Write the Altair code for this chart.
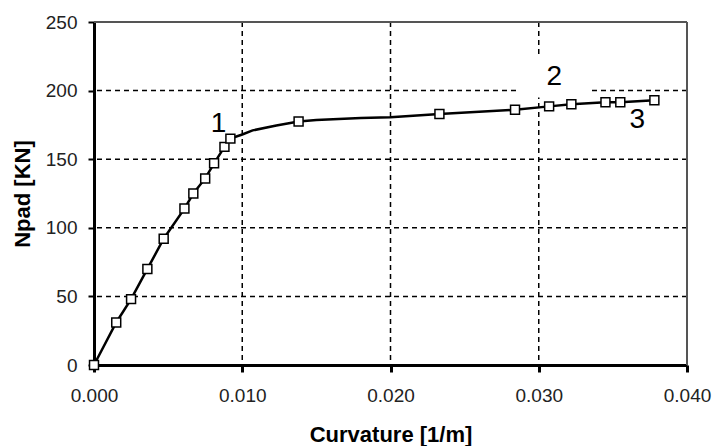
import altair as alt
import pandas as pd

# Moment-curvature curve of the pad: curvature [1/m] vs. axial load [kN]
curv = [0.0, 0.0015, 0.0025, 0.0036, 0.0047, 0.0061, 0.0067, 0.0075, 0.0081,
        0.0088, 0.0092, 0.0100, 0.0107, 0.0123, 0.0138, 0.0150, 0.0180, 0.0200,
        0.0233, 0.0284, 0.0307, 0.0322, 0.0345, 0.0355, 0.0378]
load = [0, 31, 48, 70, 92, 114, 125, 136, 147,
        159, 165, 168, 171, 174.5, 177.5, 178.5, 180, 180.5,
        183, 186, 188.5, 190, 191.5, 191.5, 193]

# Measured points shown with square markers
mark_curv = [0.0, 0.0015, 0.0025, 0.0036, 0.0047, 0.0061, 0.0067, 0.0075, 0.0081,
             0.0088, 0.0092, 0.0138, 0.0233, 0.0284, 0.0307, 0.0322, 0.0345,
             0.0355, 0.0378]
mark_load = [0, 31, 48, 70, 92, 114, 125, 136, 147,
             159, 165, 177.5, 183, 186, 188.5, 190, 191.5, 191.5, 193]

x_ticks = [0.0, 0.01, 0.02, 0.03, 0.04]
y_ticks = [0, 50, 100, 150, 200, 250]
grid_x = [0.01, 0.02, 0.03]
grid_y = [50, 100, 150, 200]

# Stage labels
label_text = ["1", "2", "3"]
label_x = [0.0084, 0.03105, 0.03665]
label_y = [169.6, 203.9, 172.5]

# White backing box behind label "2"
box_x = [0.0287]
box_x2 = [0.0335]
box_y = [195]
box_y2 = [224]

FONT = "Liberation Sans"

line_df = pd.DataFrame({"x": curv, "y": load})
mark_df = pd.DataFrame({"x": mark_curv, "y": mark_load})
gx_df = pd.DataFrame({"x": grid_x})
gy_df = pd.DataFrame({"y": grid_y})
lab_df = pd.DataFrame({"x": label_x, "y": label_y, "t": label_text})
box_df = pd.DataFrame({"x": box_x, "x2": box_x2, "y": box_y, "y2": box_y2})
# top and right frame lines sit on the upper ends of the axes
top_df = pd.DataFrame({"y": [y_ticks[-1]]})
right_df = pd.DataFrame({"x": [x_ticks[-1]]})

xscale = alt.Scale(domain=[0, 0.04], nice=False, zero=True)
yscale = alt.Scale(domain=[0, 250], nice=False, zero=True)

xaxis = alt.Axis(
    values=x_ticks, format=".3f", grid=False, title="Curvature [1/m]",
    domain=True, ticks=True, labelFlush=False, labelOverlap=False,
    domainColor="black", domainWidth=3, tickColor="black", tickWidth=3,
    tickSize=7, labelFont=FONT, labelFontSize=19, labelColor="#222",
    labelPadding=14, titleFont=FONT, titleFontSize=22, titleFontWeight="bold",
    titleColor="black", titleBaseline="alphabetic", titleY=76,
)
yaxis = alt.Axis(
    values=y_ticks, grid=False, title="Npad [KN]",
    domain=True, ticks=True, labelFlush=False, labelOverlap=False,
    domainColor="black", domainWidth=3, tickColor="black", tickWidth=2,
    tickSize=6, labelFont=FONT, labelFontSize=19, labelColor="#222",
    labelPadding=11, titleFont=FONT, titleFontSize=22, titleFontWeight="bold",
    titleColor="black", titleAngle=270, titleBaseline="middle",
    titleAlign="center", titleX=-72, titleY=171.5,
)

X = alt.X("x:Q", scale=xscale, axis=xaxis)
Y = alt.Y("y:Q", scale=yscale, axis=yaxis)

vgrid = alt.Chart(gx_df).mark_rule(
    color="black", strokeWidth=1.5, strokeDash=[5, 4]
).encode(x=X)
hgrid = alt.Chart(gy_df).mark_rule(
    color="black", strokeWidth=1.5, strokeDash=[5, 4]
).encode(y=Y)

top_line = alt.Chart(top_df).mark_rule(color="#555555", strokeWidth=2).encode(y=Y)
right_line = alt.Chart(right_df).mark_rule(color="#555555", strokeWidth=2).encode(x=X)

box = alt.Chart(box_df).mark_rect(fill="white").encode(
    x=X, x2="x2:Q", y=Y, y2="y2:Q"
)

curve = alt.Chart(line_df).mark_line(color="black", strokeWidth=2.5).encode(
    x=X, y=Y, order=alt.Order("x:Q")
)

points = alt.Chart(mark_df).mark_point(
    shape="square", filled=True, fill="white", stroke="black",
    strokeWidth=1.5, size=80, opacity=1
).encode(x=X, y=Y)

labels = alt.Chart(lab_df).mark_text(
    font=FONT, fontSize=28, color="black", align="center",
    baseline="alphabetic"
).encode(x=X, y=Y, text="t:N")

chart = alt.layer(
    vgrid, hgrid, top_line, right_line, box, curve, points, labels
).properties(
    width=593,
    height=343,
    autosize=alt.AutoSizeParams(type="none"),
    padding={"left": 94, "top": 22, "right": 26, "bottom": 81},
    background="white",
).configure_view(
    stroke=None
)

chart.save("out.html", embed_options={"renderer": "svg", "actions": False})
